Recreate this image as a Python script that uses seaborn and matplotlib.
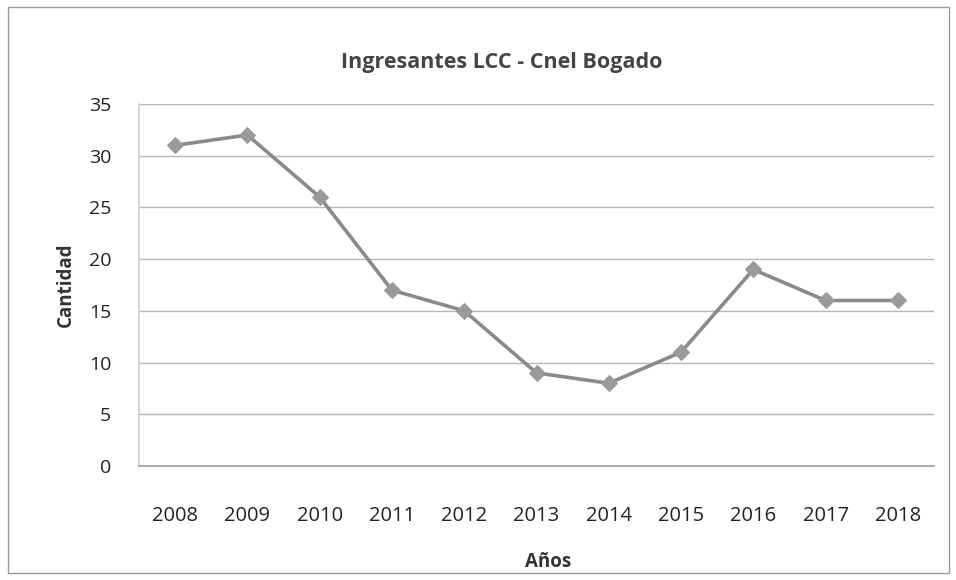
import matplotlib
matplotlib.use("Agg")
import matplotlib.pyplot as plt
import seaborn as sns
import pandas as pd

years = ["2008", "2009", "2010", "2011", "2012", "2013", "2014", "2015", "2016", "2017", "2018"]
cantidad = [31, 32, 26, 17, 15, 9, 8, 11, 19, 16, 16]
yticks = [0, 5, 10, 15, 20, 25, 30, 35]

sns.set_theme(style="white")
plt.rcParams["font.family"] = ["Open Sans", "DejaVu Sans"]

df = pd.DataFrame({"Años": years, "Cantidad": cantidad})

fig = plt.figure(figsize=(9.56, 5.80), dpi=100)
ax = fig.add_axes([0.1454, 0.1966, 0.8316, 0.6241])

sns.lineplot(data=df, x="Años", y="Cantidad", ax=ax, sort=False,
             color="#8a8a8a", linewidth=2.6, marker="D", markersize=8,
             markeredgecolor="#9a9a9a", markerfacecolor="#9a9a9a")

ax.set_xlim(-0.5, len(years) - 0.5)
ax.set_ylim(0, 35)
ax.set_yticks(yticks)
ax.set_yticklabels([str(t) for t in yticks])
ax.grid(axis="y", color="#b5b5b5", linewidth=1.0)
ax.grid(axis="x", visible=False)
ax.set_axisbelow(True)
for s in ["top", "right"]:
    ax.spines[s].set_visible(False)
ax.spines["left"].set_color("#cfcfcf")
ax.spines["bottom"].set_color("#a0a0a0")
ax.tick_params(axis="both", length=0, colors="#222222")
ax.tick_params(axis="x", labelsize=14.5, pad=29)
ax.tick_params(axis="y", labelsize=14, pad=20)

ax.set_xlabel("Años", fontsize=13.5, fontweight="bold", color="#333333")
ax.xaxis.set_label_coords(0.514, -0.238)
ax.set_ylabel("Cantidad", fontsize=13.5, fontweight="bold", color="#333333", labelpad=9)
fig.text(0.525, 0.893, "Ingresantes LCC - Cnel Bogado", ha="center", va="center",
         fontsize=15.5, fontweight="bold", color="#444444")

border = plt.Rectangle((0.008, 0.012), 0.985, 0.976, transform=fig.transFigure,
                       fill=False, edgecolor="#9a9a9a", linewidth=1.0)
fig.patches.append(border)

fig.savefig("out.png", dpi=100, facecolor="white")
